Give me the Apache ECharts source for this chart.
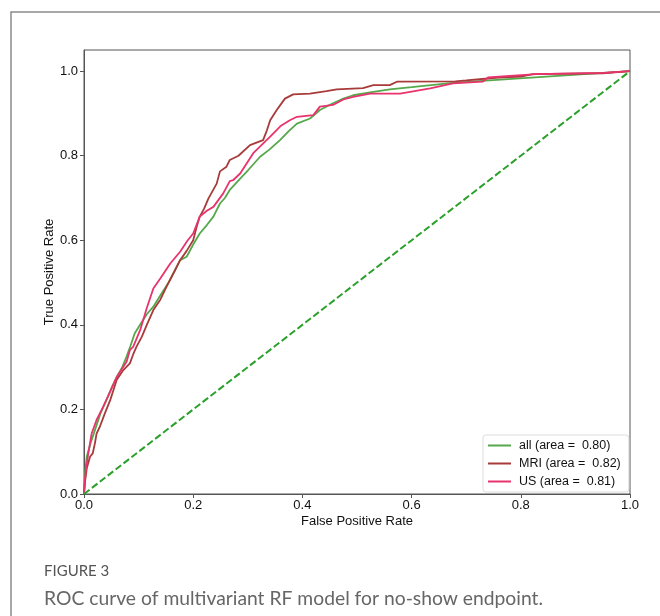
<!DOCTYPE html>
<html>
<head>
	<meta charset="utf-8">
	<title>ROC curve</title>
	<script src="https://cdn.jsdelivr.net/npm/echarts@6/dist/echarts.min.js"></script>
</head>
<style type="text/css">
body {
	margin: 0;
	background: #fff;
}
#chart {
	width: 660px;
	height: 616px;
}
</style>
<body>
	<div id="chart"></div>
</body>
<script type="text/javascript">
	// 读图估计的 ROC 点 (fpr, tpr)
	var allFpr = [0, 0.002, 0.005, 0.012, 0.02, 0.03, 0.041, 0.05, 0.06, 0.07, 0.078, 0.085, 0.093, 0.105, 0.115, 0.127, 0.14, 0.155, 0.165, 0.176, 0.188, 0.2, 0.212, 0.225, 0.237, 0.249, 0.258, 0.267, 0.286, 0.3, 0.322, 0.34, 0.359, 0.375, 0.39, 0.414, 0.432, 0.456, 0.475, 0.493, 0.524, 0.56, 0.6, 0.68, 1];
	var allTpr = [0, 0.05, 0.088, 0.12, 0.151, 0.19, 0.222, 0.25, 0.277, 0.3, 0.325, 0.35, 0.38, 0.405, 0.425, 0.443, 0.47, 0.5, 0.525, 0.553, 0.561, 0.59, 0.616, 0.636, 0.656, 0.687, 0.7, 0.719, 0.746, 0.765, 0.797, 0.815, 0.837, 0.858, 0.876, 0.888, 0.908, 0.924, 0.935, 0.943, 0.95, 0.957, 0.962, 0.973, 1];

	var mriFpr = [0, 0.002, 0.005, 0.011, 0.016, 0.02, 0.023, 0.029, 0.038, 0.048, 0.055, 0.06, 0.072, 0.084, 0.09, 0.096, 0.106, 0.115, 0.127, 0.14, 0.151, 0.165, 0.176, 0.188, 0.2, 0.206, 0.212, 0.22, 0.228, 0.243, 0.249, 0.261, 0.267, 0.283, 0.304, 0.328, 0.335, 0.341, 0.353, 0.368, 0.383, 0.414, 0.444, 0.463, 0.511, 0.53, 0.56, 0.573, 0.68, 0.7, 0.76, 0.8, 0.822, 0.95, 1];
	var mriTpr = [0, 0.03, 0.06, 0.088, 0.096, 0.12, 0.143, 0.159, 0.19, 0.222, 0.25, 0.27, 0.293, 0.309, 0.33, 0.348, 0.372, 0.4, 0.435, 0.46, 0.49, 0.525, 0.553, 0.575, 0.6, 0.63, 0.656, 0.675, 0.699, 0.734, 0.763, 0.774, 0.79, 0.8, 0.825, 0.837, 0.86, 0.884, 0.908, 0.935, 0.945, 0.947, 0.953, 0.957, 0.96, 0.967, 0.967, 0.975, 0.976, 0.978, 0.985, 0.987, 0.993, 0.995, 1];

	var usFpr = [0, 0.002, 0.005, 0.008, 0.014, 0.023, 0.035, 0.048, 0.06, 0.078, 0.084, 0.09, 0.103, 0.115, 0.127, 0.14, 0.158, 0.176, 0.19, 0.2, 0.212, 0.225, 0.237, 0.255, 0.267, 0.273, 0.286, 0.31, 0.341, 0.36, 0.377, 0.39, 0.42, 0.432, 0.456, 0.475, 0.493, 0.524, 0.579, 0.634, 0.676, 0.73, 0.74, 0.78, 0.829, 0.951, 1];
	var usTpr = [0, 0.041, 0.07, 0.097, 0.143, 0.175, 0.206, 0.242, 0.277, 0.313, 0.34, 0.348, 0.388, 0.44, 0.486, 0.51, 0.545, 0.573, 0.6, 0.616, 0.656, 0.67, 0.679, 0.711, 0.74, 0.742, 0.758, 0.806, 0.845, 0.87, 0.884, 0.892, 0.896, 0.916, 0.92, 0.933, 0.939, 0.947, 0.947, 0.959, 0.971, 0.975, 0.985, 0.989, 0.993, 0.996, 1];

	var chanceFpr = [0, 1];
	var chanceTpr = [0, 1];

	var seriesNames = ['all (area =  0.80)', 'MRI (area =  0.82)', 'US (area =  0.81)'];

	function pairs(xs, ys) {
		var out = [];
		for (var i = 0; i < xs.length; i++) {
			out.push([xs[i], ys[i]]);
		}
		return out;
	}

	var Chart = echarts.init(document.getElementById('chart'), null, {renderer: 'canvas'});

	var fontFam = 'Liberation Sans, Arial, sans-serif';

	option = {
		animation: false,
		backgroundColor: '#fff',
		grid: {
			left: 84,
			right: 30,
			top: 50,
			bottom: 122,
			show: true,
			borderColor: '#555',
			borderWidth: 1
		},
		legend: {
			data: seriesNames,
			orient: 'vertical',
			left: 483,
			top: 435,
			padding: [4, 8, 4, 5],
			itemGap: 5,
			itemWidth: 23,
			itemHeight: 2,
			icon: 'rect',
			borderColor: '#ddd',
			borderWidth: 1,
			borderRadius: 3,
			textStyle: {color: '#111', fontSize: 12.5, fontFamily: fontFam, padding: [0, 0, 0, 3]}
		},
		xAxis: {
			type: 'value',
			min: 0,
			max: 1,
			interval: 0.2,
			name: 'False Positive Rate',
			nameLocation: 'middle',
			nameGap: 21,
			nameMoveOverlap: false,
			nameTextStyle: {color: '#111', fontSize: 13, fontFamily: fontFam},
			axisLine: {show: true, lineStyle: {color: '#555', width: 1}},
			axisTick: {show: true, length: 4, lineStyle: {color: '#555'}},
			axisLabel: {
				margin: 5,
				color: '#111',
				fontSize: 13,
				fontFamily: fontFam,
				formatter: function (v) { return v.toFixed(1); }
			},
			splitLine: {show: false}
		},
		yAxis: {
			type: 'value',
			min: 0,
			max: 1.05,
			interval: 0.2,
			name: 'True Positive Rate',
			nameLocation: 'middle',
			nameGap: 28,
			nameMoveOverlap: false,
			nameTextStyle: {color: '#111', fontSize: 13, fontFamily: fontFam},
			axisLine: {show: true, lineStyle: {color: '#555', width: 1}},
			axisTick: {show: true, length: 4, lineStyle: {color: '#555'}},
			axisLabel: {
				margin: 6,
				color: '#111',
				fontSize: 13,
				fontFamily: fontFam,
				showMaxLabel: false,
				formatter: function (v) { return v > 1.001 ? '' : v.toFixed(1); }
			},
			splitLine: {show: false}
		},
		series: [
			{
				name: seriesNames[0],
				type: 'line',
				showSymbol: false,
				color: '#55a84b',
				lineStyle: {width: 1.8, color: '#55a84b'},
				data: pairs(allFpr, allTpr)
			},
			{
				name: seriesNames[1],
				type: 'line',
				showSymbol: false,
				color: '#a83a3a',
				lineStyle: {width: 1.8, color: '#a83a3a'},
				data: pairs(mriFpr, mriTpr)
			},
			{
				name: seriesNames[2],
				type: 'line',
				showSymbol: false,
				color: '#e8336d',
				lineStyle: {width: 1.8, color: '#e8336d'},
				data: pairs(usFpr, usTpr)
			},
			{
				name: 'chance',
				type: 'line',
				showSymbol: false,
				lineStyle: {width: 2, color: '#2ca02c', type: [7, 3]},
				data: pairs(chanceFpr, chanceTpr)
			}
		],
		graphic: [
			{
				type: 'rect',
				silent: true,
				shape: {x: 11, y: 12, width: 700, height: 700},
				style: {fill: 'none', stroke: '#8c8c8c', lineWidth: 1.5}
			},
			{
				type: 'text',
				left: 44,
				top: 564,
				style: {text: 'FIGURE 3', fill: '#555', font: '15px Lato, "Open Sans", sans-serif'}
			},
			{
				type: 'text',
				left: 44,
				top: 589,
				style: {text: 'ROC curve of multivariant RF model for no-show endpoint.', fill: '#666', font: '19.3px Lato, "Open Sans", sans-serif'}
			}
		]
	};

	Chart.setOption(option);
</script>
</html>
